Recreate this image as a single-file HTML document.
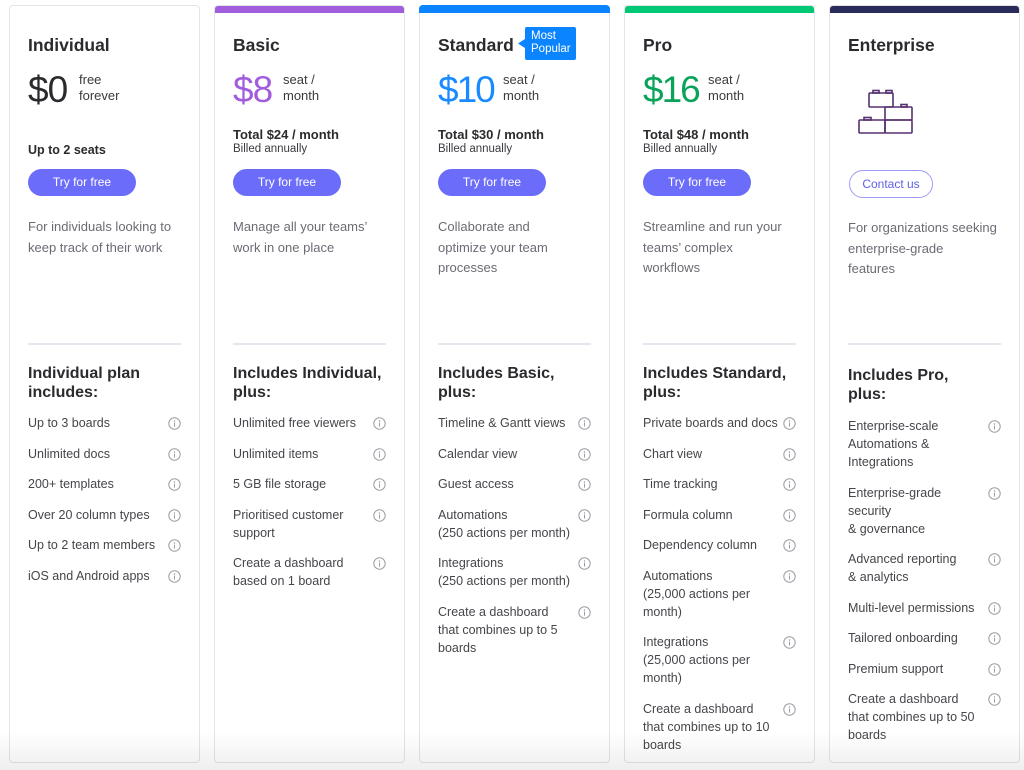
<!DOCTYPE html>
<html><head><meta charset="utf-8">
<style>
*{margin:0;padding:0;box-sizing:border-box}
html,body{width:1024px;height:770px;overflow:hidden;background:#fff;font-family:"Liberation Sans",sans-serif;color:#323338}
.card{position:absolute;top:5px;width:191px;height:758px;border:1px solid #e4e4e6;border-radius:4px;background:#fff;overflow:hidden}
.bar{position:absolute;left:-1px;right:-1px;top:-1px;height:8px}
.el{position:absolute;left:18px;white-space:nowrap}
.title{top:29px;font-size:17.5px;font-weight:bold;line-height:20px;color:#2b2b2f}
.price{top:65px;font-size:37px;line-height:37px;letter-spacing:-1px}
.unit{top:66px;font-size:13px;line-height:16px;color:#3a3a3f}
.total{top:121px;font-size:13px;font-weight:bold;line-height:16px;color:#2b2b2f}
.billed{top:136px;font-size:11.5px;line-height:14px;color:#3a3a3f}
.btn{top:163px;width:108px;height:27px;border-radius:14px;background:#6c6cfb;color:#fff;font-size:12px;line-height:27px;text-align:center}
.desc{top:211px;font-size:13px;line-height:20.6px;color:#6b6b74}
.div{top:337px;width:153px;height:2px;background:#e6e7ee}
.head{top:359px;font-size:16px;font-weight:bold;line-height:18.5px;color:#2b2b2f}
.feats{top:408px;width:153px}
.f{position:relative;font-size:12.5px;line-height:18px;color:#45454b;margin-bottom:12.5px;white-space:nowrap}
.f svg{position:absolute;right:0;top:3px}
.shade{position:absolute;left:0;top:732px;width:1024px;height:38px;background:linear-gradient(rgba(0,0,0,0),rgba(0,0,0,0.065));pointer-events:none}
</style></head><body>

<svg width="0" height="0" style="position:absolute">
<defs>
<symbol id="info" viewBox="0 0 13 13"><circle cx="6.5" cy="6.5" r="5.7" fill="none" stroke="#9c9ca4" stroke-width="1"/><circle cx="6.5" cy="4" r="0.75" fill="#9c9ca4"/><rect x="6" y="5.6" width="1" height="4" fill="#9c9ca4"/></symbol>
</defs></svg>

<!-- Card 1 -->
<div class="card" style="left:9px">
  <div class="el title">Individual</div>
  <div class="el price" style="color:#2b2b2f">$0</div>
  <div class="el unit" style="left:69px">free<br>forever</div>
  <div class="el total" style="top:136px;font-size:12.5px">Up to 2 seats</div>
  <div class="el btn">Try for free</div>
  <div class="el desc">For individuals looking to<br>keep track of their work</div>
  <div class="el div"></div>
  <div class="el head">Individual plan<br>includes:</div>
  <div class="el feats">
    <div class="f">Up to 3 boards<svg width="13" height="13"><use href="#info"/></svg></div>
    <div class="f">Unlimited docs<svg width="13" height="13"><use href="#info"/></svg></div>
    <div class="f">200+ templates<svg width="13" height="13"><use href="#info"/></svg></div>
    <div class="f">Over 20 column types<svg width="13" height="13"><use href="#info"/></svg></div>
    <div class="f">Up to 2 team members<svg width="13" height="13"><use href="#info"/></svg></div>
    <div class="f">iOS and Android apps<svg width="13" height="13"><use href="#info"/></svg></div>
  </div>
</div>

<!-- Card 2 -->
<div class="card" style="left:214px">
  <div class="bar" style="background:#a25ddc"></div>
  <div class="el title">Basic</div>
  <div class="el price" style="color:#a25ddc">$8</div>
  <div class="el unit" style="left:68px">seat /<br>month</div>
  <div class="el total">Total $24 / month</div>
  <div class="el billed">Billed annually</div>
  <div class="el btn">Try for free</div>
  <div class="el desc">Manage all your teams’<br>work in one place</div>
  <div class="el div"></div>
  <div class="el head">Includes Individual,<br>plus:</div>
  <div class="el feats">
    <div class="f">Unlimited free viewers<svg width="13" height="13"><use href="#info"/></svg></div>
    <div class="f">Unlimited items<svg width="13" height="13"><use href="#info"/></svg></div>
    <div class="f">5 GB file storage<svg width="13" height="13"><use href="#info"/></svg></div>
    <div class="f">Prioritised customer<br>support<svg width="13" height="13"><use href="#info"/></svg></div>
    <div class="f">Create a dashboard<br>based on 1 board<svg width="13" height="13"><use href="#info"/></svg></div>
  </div>
</div>

<!-- Card 3 -->
<div class="card" style="left:419px;overflow:visible">
  <div class="bar" style="background:#0a85ff;border-radius:4px 4px 0 0"></div>
  <div class="el title">Standard</div>
  <svg style="position:absolute;left:97px;top:21px" width="60" height="35">
    <path d="M8 2 Q8 0 10 0 L57 0 Q59 0 59 2 L59 31 Q59 33 57 33 L10 33 Q8 33 8 31 L8 21 L1 16.5 L8 12 Z" fill="#0b84ff"/>
  </svg>
  <div style="position:absolute;left:111px;top:24px;font-size:11.5px;line-height:13px;color:#fff;white-space:nowrap">Most<br>Popular</div>
  <div class="el price" style="color:#1a8aff;letter-spacing:-2px">$10</div>
  <div class="el unit" style="left:83px">seat /<br>month</div>
  <div class="el total">Total $30 / month</div>
  <div class="el billed">Billed annually</div>
  <div class="el btn">Try for free</div>
  <div class="el desc">Collaborate and<br>optimize your team<br>processes</div>
  <div class="el div"></div>
  <div class="el head">Includes Basic,<br>plus:</div>
  <div class="el feats">
    <div class="f">Timeline &amp; Gantt views<svg width="13" height="13"><use href="#info"/></svg></div>
    <div class="f">Calendar view<svg width="13" height="13"><use href="#info"/></svg></div>
    <div class="f">Guest access<svg width="13" height="13"><use href="#info"/></svg></div>
    <div class="f">Automations<br>(250 actions per month)<svg width="13" height="13"><use href="#info"/></svg></div>
    <div class="f">Integrations<br>(250 actions per month)<svg width="13" height="13"><use href="#info"/></svg></div>
    <div class="f">Create a dashboard<br>that combines up to 5<br>boards<svg width="13" height="13"><use href="#info"/></svg></div>
  </div>
</div>

<!-- Card 4 -->
<div class="card" style="left:624px">
  <div class="bar" style="background:#00c875"></div>
  <div class="el title">Pro</div>
  <div class="el price" style="color:#0aa35a;letter-spacing:-2px">$16</div>
  <div class="el unit" style="left:83px">seat /<br>month</div>
  <div class="el total">Total $48 / month</div>
  <div class="el billed">Billed annually</div>
  <div class="el btn">Try for free</div>
  <div class="el desc">Streamline and run your<br>teams’ complex<br>workflows</div>
  <div class="el div"></div>
  <div class="el head">Includes Standard,<br>plus:</div>
  <div class="el feats">
    <div class="f">Private boards and docs<svg width="13" height="13"><use href="#info"/></svg></div>
    <div class="f">Chart view<svg width="13" height="13"><use href="#info"/></svg></div>
    <div class="f">Time tracking<svg width="13" height="13"><use href="#info"/></svg></div>
    <div class="f">Formula column<svg width="13" height="13"><use href="#info"/></svg></div>
    <div class="f">Dependency column<svg width="13" height="13"><use href="#info"/></svg></div>
    <div class="f">Automations<br>(25,000 actions per<br>month)<svg width="13" height="13"><use href="#info"/></svg></div>
    <div class="f">Integrations<br>(25,000 actions per<br>month)<svg width="13" height="13"><use href="#info"/></svg></div>
    <div class="f">Create a dashboard<br>that combines up to 10<br>boards<svg width="13" height="13"><use href="#info"/></svg></div>
  </div>
</div>

<!-- Card 5 -->
<div class="card" style="left:829px">
  <div class="bar" style="background:#292c5a"></div>
  <div class="el title">Enterprise</div>
  <svg style="position:absolute;left:25px;top:82px" width="62" height="50" fill="none" stroke="#55306f" stroke-width="1.6">
    <rect x="14" y="5" width="24" height="14" rx="1"/>
    <rect x="18" y="2.5" width="6" height="2.5"/>
    <rect x="31" y="2.5" width="6" height="2.5"/>
    <rect x="30" y="19" width="27" height="13" rx="1"/>
    <rect x="46" y="16.5" width="6" height="2.5"/>
    <rect x="4" y="32" width="26" height="13" rx="1"/>
    <rect x="9" y="29.5" width="7" height="2.5"/>
    <rect x="30" y="32" width="27" height="13" rx="1"/>
  </svg>
  <div class="el" style="left:19px;top:164px;width:84px;height:28px;border:1px solid #9d9dfb;border-radius:14px;color:#5f5fe6;font-size:12px;line-height:26px;text-align:center">Contact us</div>
  <div class="el desc" style="top:212px">For organizations seeking<br>enterprise-grade<br>features</div>
  <div class="el div"></div>
  <div class="el head" style="top:361px">Includes Pro,<br>plus:</div>
  <div class="el feats" style="top:411px">
    <div class="f">Enterprise-scale<br>Automations &amp;<br>Integrations<svg width="13" height="13"><use href="#info"/></svg></div>
    <div class="f">Enterprise-grade<br>security<br>&amp; governance<svg width="13" height="13"><use href="#info"/></svg></div>
    <div class="f">Advanced reporting<br>&amp; analytics<svg width="13" height="13"><use href="#info"/></svg></div>
    <div class="f">Multi-level permissions<svg width="13" height="13"><use href="#info"/></svg></div>
    <div class="f">Tailored onboarding<svg width="13" height="13"><use href="#info"/></svg></div>
    <div class="f">Premium support<svg width="13" height="13"><use href="#info"/></svg></div>
    <div class="f">Create a dashboard<br>that combines up to 50<br>boards<svg width="13" height="13"><use href="#info"/></svg></div>
  </div>
</div>

<div class="shade"></div>
</body></html>
